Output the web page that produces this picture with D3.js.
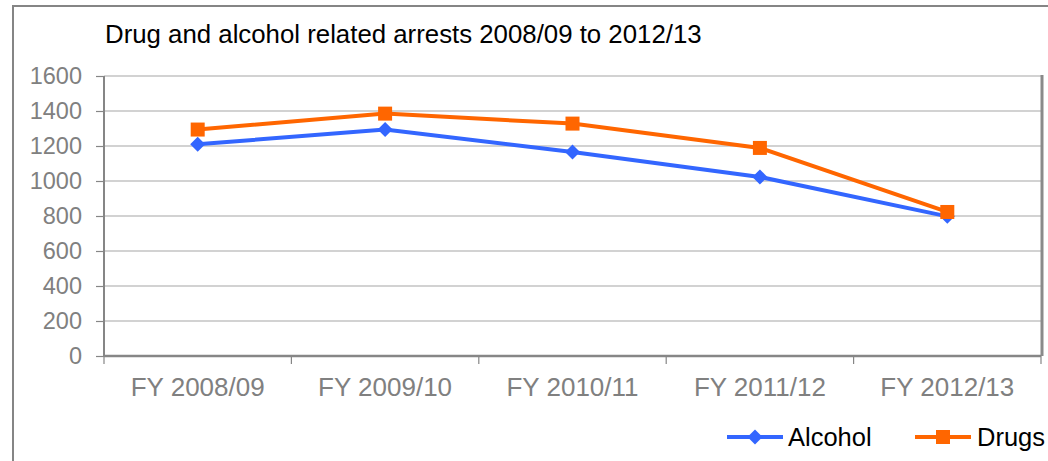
<!DOCTYPE html>
<html><head><meta charset="utf-8">
<script src="https://cdn.jsdelivr.net/npm/d3@7"></script>
<style>body{margin:0;background:#fff;}svg{display:block;}</style>
</head><body>
<svg id="c" width="1048" height="461"></svg>
<script>
const categories = ["FY 2008/09","FY 2009/10","FY 2010/11","FY 2011/12","FY 2012/13"];
const alcohol = [1210, 1294, 1166, 1023, 798];
const drugs = [1294, 1385, 1328, 1189, 823];
const yTicks = [0,200,400,600,800,1000,1200,1400,1600];
const seriesNames = ["Alcohol","Drugs"];

const svg = d3.select("#c");
const font = "'Liberation Sans', Arial, sans-serif";
const L = 104, R = 1041, T = 76, B = 356;

// outer border
svg.append("path").attr("d","M13,461 V6 H1048").attr("fill","none").attr("stroke","#858585").attr("stroke-width",2);

const x = d3.scaleBand().domain(categories).range([L,R]).padding(0);
const y = d3.scaleLinear().domain([0,1600]).range([B,T]);

// gridlines
svg.append("g").selectAll("line").data(yTicks.filter(d=>d>0)).join("line")
  .attr("x1",L).attr("x2",R).attr("y1",d=>y(d)).attr("y2",d=>y(d))
  .attr("stroke","#a6a6a6").attr("stroke-width",1.2);
// plot right border
svg.append("line").attr("x1",R+1).attr("x2",R+1).attr("y1",T-1).attr("y2",B).attr("stroke","#8a8a8a").attr("stroke-width",3);

// y axis
const ya = svg.append("g").attr("transform",`translate(${L},0)`)
  .call(d3.axisLeft(y).tickValues(yTicks).tickSize(8).tickPadding(14).tickFormat(d3.format("d")));
ya.select(".domain").attr("stroke","#868686").attr("stroke-width",2).attr("d",`M0,${T}V${B}`);
ya.selectAll(".tick line").attr("stroke","#868686").attr("stroke-width",1.2);
ya.selectAll(".tick text").attr("fill","#808080").style("font-family",font).style("font-size","23.5px");

// x axis
const xa = svg.append("g").attr("transform",`translate(0,${B})`)
  .call(d3.axisBottom(x).tickSize(0).tickPadding(22));
xa.select(".domain").attr("stroke","#868686").attr("stroke-width",2.5).attr("d",`M${L},0H${R}`);
xa.selectAll(".tick text").attr("fill","#808080").style("font-family",font).style("font-size","26px");
// category boundary ticks
const bounds = categories.map(c=>x(c)).concat([R]);
xa.append("g").selectAll("line").data(bounds).join("line")
  .attr("x1",d=>d).attr("x2",d=>d).attr("y1",0).attr("y2",8)
  .attr("stroke","#868686").attr("stroke-width",1.2);

const cx = c => x(c) + x.bandwidth()/2;
const line = d3.line().x((d,i)=>cx(categories[i])).y(d=>y(d));
const colors = {Alcohol:"#3366ff", Drugs:"#ff6600"};

svg.append("path").datum(alcohol).attr("d",line).attr("fill","none").attr("stroke",colors.Alcohol).attr("stroke-width",4);
svg.append("path").datum(drugs).attr("d",line).attr("fill","none").attr("stroke",colors.Drugs).attr("stroke-width",4);

const diamond = s => `M0,${-s}L${s},0L0,${s}L${-s},0Z`;
svg.append("g").selectAll("path").data(alcohol).join("path")
  .attr("transform",(d,i)=>`translate(${cx(categories[i])},${y(d)})`)
  .attr("d",diamond(7.5)).attr("fill",colors.Alcohol);
svg.append("g").selectAll("rect").data(drugs).join("rect")
  .attr("x",(d,i)=>cx(categories[i])-7).attr("y",d=>y(d)-7).attr("width",14).attr("height",14)
  .attr("fill",colors.Drugs);

// title
svg.append("text").attr("x",105).attr("y",43).text("Drug and alcohol related arrests 2008/09 to 2012/13")
  .attr("fill","#000").style("font-family",font).style("font-size","25.8px");

// legend
const leg = [{name:seriesNames[0], x0:727, tx:788}, {name:seriesNames[1], x0:915, tx:977}];
const ly = 437;
leg.forEach(l=>{
  const g = svg.append("g");
  g.append("line").attr("x1",l.x0).attr("x2",l.x0+56).attr("y1",ly).attr("y2",ly).attr("stroke",colors[l.name]).attr("stroke-width",4);
  if(l.name==="Alcohol") g.append("path").attr("transform",`translate(${l.x0+28},${ly})`).attr("d",diamond(7.5)).attr("fill",colors[l.name]);
  else g.append("rect").attr("x",l.x0+28-7).attr("y",ly-7).attr("width",14).attr("height",14).attr("fill",colors[l.name]);
  g.append("text").attr("x",l.tx).attr("y",ly+9).text(l.name).attr("fill","#000").style("font-family",font).style("font-size","25.5px");
});
</script>
</body></html>
